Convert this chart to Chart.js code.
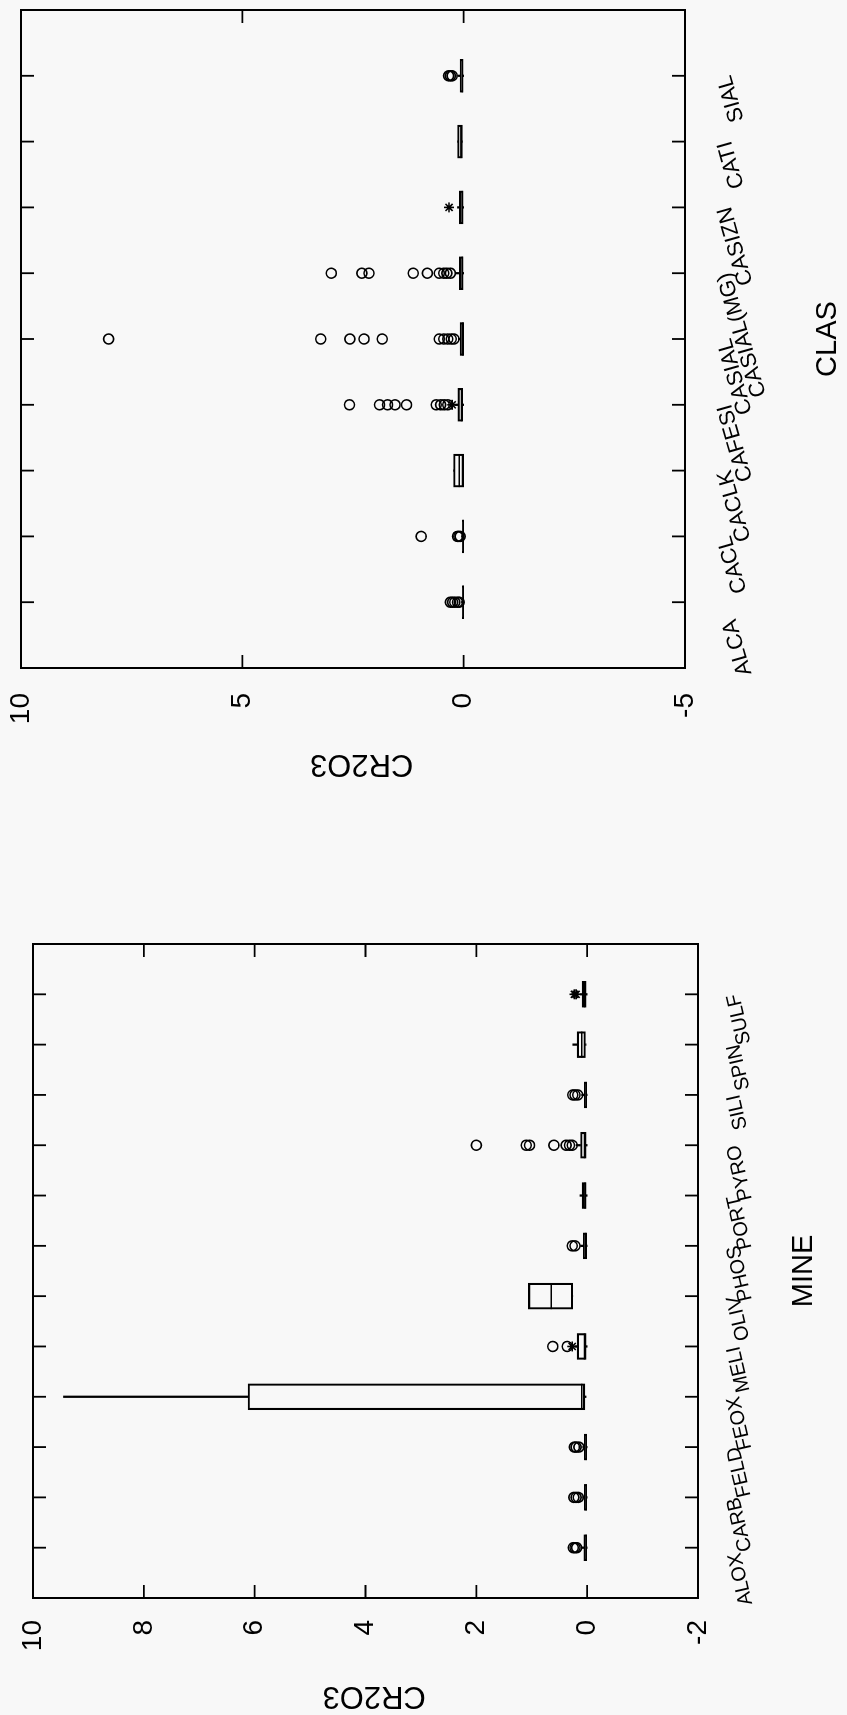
<!DOCTYPE html>
<html>
<head>
<meta charset="utf-8">
<script src="https://cdn.jsdelivr.net/npm/chart.js@4.4.1/dist/chart.umd.min.js"></script>
<style>
  html, body { margin: 0; padding: 0; background: #f8f8f8; overflow: hidden; width: 847px; height: 1715px; }
  /* the sheet is laid out landscape and turned a quarter turn */
  #sheet { position: absolute; left: 0; top: 0; width: 1715px; height: 847px;
           transform-origin: 0 0; transform: translate(0, 1715px) rotate(-90deg); }
  .panel { position: absolute; top: 0; height: 847px; }
  #minePanel { left: 0; width: 857px; }
  #clasPanel { left: 857px; width: 858px; }
  canvas { display: block; }
</style>
</head>
<body>
<div id="sheet">
  <div class="panel" id="minePanel"><canvas id="mineChart" width="857" height="847"></canvas></div>
  <div class="panel" id="clasPanel"><canvas id="clasChart" width="858" height="847"></canvas></div>
</div>
<script>
// ---------- MINE groups: CR2O3 ----------
const mineCategories = ['ALOX','CARB','FELD','FEOX','MELI','OLIV','PHOS','PORT','PYRO','SILI','SPIN','SULF'];
const mineLow    = [0.00, 0.00, 0.00, 0.02, 0.00, 0.26, 0.00, 0.00, 0.00, 0.00, 0.02, 0.00];
const mineQ1     = [0.01, 0.01, 0.01, 0.04, 0.02, 0.26, 0.01, 0.02, 0.02, 0.01, 0.03, 0.02];
const mineMedian = [0.02, 0.02, 0.02, 0.10, 0.05, 0.65, 0.03, 0.04, 0.05, 0.02, 0.10, 0.05];
const mineQ3     = [0.06, 0.05, 0.05, 6.12, 0.18, 1.06, 0.07, 0.09, 0.12, 0.05, 0.18, 0.09];
const mineHigh   = [0.10, 0.08, 0.08, 9.45, 0.22, 1.06, 0.12, 0.13, 0.20, 0.10, 0.26, 0.12];
const mineOutside = [[], [], [], [], [0.27], [], [], [], [], [], [], [0.20, 0.23]];
const mineFarOutside = [
  [0.19, 0.22, 0.25], [0.16, 0.20, 0.24], [0.15, 0.20, 0.23], [], [0.36, 0.62], [],
  [0.22, 0.27], [], [2.00, 1.10, 1.04, 0.60, 0.38, 0.32, 0.27], [0.17, 0.22, 0.26], [], []
];
const mineValueTicks = [-2, 0, 2, 4, 6, 8, 10];

// ---------- CLAS groups: CR2O3 ----------
const clasCategories = ['ALCA','CACL','CACLK','CAFESI','CASIAL','CASIAL(MG)','CASIZN','CATI','SIAL'];
const clasLow    = [0.00, 0.00, 0.00, 0.00, 0.00, 0.00, 0.00, 0.03, 0.00];
const clasQ1     = [0.00, 0.00, 0.00, 0.02, 0.00, 0.01, 0.01, 0.03, 0.01];
const clasMedian = [0.01, 0.01, 0.10, 0.05, 0.02, 0.03, 0.03, 0.06, 0.03];
const clasQ3     = [0.03, 0.03, 0.23, 0.13, 0.08, 0.10, 0.10, 0.14, 0.08];
const clasHigh   = [0.05, 0.05, 0.23, 0.20, 0.12, 0.18, 0.14, 0.14, 0.12];
const clasOutside = [[], [], [], [0.26], [], [], [0.33], [], []];
const clasFarOutside = [
  [0.30, 0.25, 0.20, 0.14, 0.10],
  [0.96, 0.14, 0.11, 0.08],
  [],
  [2.58, 1.90, 1.72, 1.55, 1.29, 0.62, 0.52, 0.44, 0.36],
  [8.02, 3.23, 2.57, 2.25, 1.84, 0.55, 0.45, 0.36, 0.28, 0.22],
  [2.99, 2.30, 2.14, 1.14, 0.82, 0.55, 0.45, 0.38, 0.30],
  [], [],
  [0.26, 0.30, 0.34]
];
const clasValueTicks = [-5, 0, 5, 10];

const FONT = '"Liberation Sans", Arial, Helvetica, sans-serif';
Chart.defaults.font.family = FONT;
Chart.defaults.color = '#000';

// frame round the plot area with short inward ticks on all four sides
const framePlugin = {
  id: 'frame',
  afterDatasetsDraw(chart) {
    const { ctx, chartArea: a, scales: { x, y } } = chart;
    const len = 13;
    ctx.save();
    ctx.strokeStyle = '#000';
    ctx.lineWidth = 1.8;
    ctx.beginPath();
    for (let i = 1; i < x.getLabels().length - 1; i++) {
      const px = x.getPixelForValue(i);
      ctx.moveTo(px, a.top); ctx.lineTo(px, a.top + len);
      ctx.moveTo(px, a.bottom); ctx.lineTo(px, a.bottom - len);
    }
    y.ticks.forEach(t => {
      const py = y.getPixelForValue(t.value);
      if (py <= a.top + 1 || py >= a.bottom - 1) return;
      ctx.moveTo(a.left, py); ctx.lineTo(a.left + len, py);
      ctx.moveTo(a.right, py); ctx.lineTo(a.right - len, py);
    });
    ctx.stroke();
    ctx.lineWidth = 2;
    ctx.strokeRect(a.left, a.top, a.right - a.left, a.bottom - a.top);
    ctx.restore();
  }
};

function boxPlot(canvasId, cfg) {
  // the first name is pulled back so it starts at the left edge of the frame
  const names = cfg.categories.map((c, i) => i === 0 ? c + ' '.repeat(cfg.firstLabelPull) : c);
  const labels = ['', ...names, ''];
  const pad = arr => [null, ...arr, null];
  const whiskerUp = pad(cfg.q3.map((q, i) => [q, cfg.high[i]]));
  const whiskerDown = pad(cfg.q1.map((q, i) => [cfg.low[i], q]));
  const boxes = pad(cfg.q1.map((q, i) => [q, cfg.q3[i]]));
  const far = [], out = [];
  cfg.farOutside.forEach((vals, i) => vals.forEach(v => far.push({ x: names[i], y: v })));
  cfg.outside.forEach((vals, i) => vals.forEach(v => out.push({ x: names[i], y: v })));

  const whiskerStyle = { type: 'bar', grouped: false, barThickness: 1.6, backgroundColor: '#000',
                         borderWidth: 0, order: 5 };
  return new Chart(document.getElementById(canvasId), {
    type: 'bar',
    data: {
      labels,
      datasets: [
        { ...whiskerStyle, data: whiskerUp },
        { ...whiskerStyle, data: whiskerDown },
        { type: 'bar', grouped: false, data: boxes, barThickness: cfg.boxWidth,
          backgroundColor: 'rgba(0,0,0,0)', borderColor: '#000', borderWidth: 1.5,
          borderSkipped: false, order: 4 },
        { type: 'line', data: pad(cfg.median), showLine: false, pointStyle: 'line',
          pointRadius: cfg.boxWidth / 2, borderColor: '#000', borderWidth: 1.5, order: 3 },
        { type: 'line', data: out, showLine: false, pointStyle: 'star', pointRadius: 5,
          borderColor: '#000', borderWidth: 1.6, order: 2 },
        { type: 'line', data: far, showLine: false, pointStyle: 'circle', pointRadius: 5,
          borderColor: '#000', backgroundColor: 'rgba(0,0,0,0)', borderWidth: 1.6, order: 1 }
      ]
    },
    options: {
      responsive: false,
      animation: false,
      events: [],
      layout: { padding: cfg.padding, autoPadding: false },
      plugins: { legend: { display: false }, tooltip: { enabled: false } },
      scales: {
        x: {
          type: 'category',
          offset: false,
          grid: { display: false, drawTicks: false },
          border: { display: false },
          ticks: {
            autoSkip: false, minRotation: cfg.labelTilt, maxRotation: cfg.labelTilt,
            padding: cfg.labelPad, font: { size: cfg.labelSize }
          },
          title: { display: true, text: cfg.xTitle, font: { size: 29 },
                   padding: { top: 0, bottom: cfg.xTitlePad } },
          afterFit: s => { s.height = cfg.xAxisHeight; s.paddingLeft = 0; s.paddingRight = 0; }
        },
        y: {
          type: 'linear',
          min: cfg.valueTicks[0],
          max: cfg.valueTicks[cfg.valueTicks.length - 1],
          afterBuildTicks: s => { s.ticks = cfg.valueTicks.map(v => ({ value: v })); },
          grid: { display: false, drawTicks: false },
          border: { display: false },
          ticks: { font: { size: 28 }, padding: cfg.tickPad },
          title: { display: true, text: 'CR2O3  ', font: { size: 31 },
                   padding: { top: cfg.yTitlePad, bottom: 0 } },
          afterFit: s => { s.width = cfg.yAxisWidth; s.paddingTop = 0; s.paddingBottom = 0; }
        }
      }
    },
    plugins: [framePlugin]
  });
}

boxPlot('mineChart', {
  categories: mineCategories, low: mineLow, q1: mineQ1, median: mineMedian, q3: mineQ3,
  high: mineHigh, outside: mineOutside, farOutside: mineFarOutside, valueTicks: mineValueTicks,
  boxWidth: 26, xTitle: 'MINE',
  padding: { left: 0, top: 33, right: 86, bottom: 0 },
  yAxisWidth: 117, xAxisHeight: 149, tickPad: 22, yTitlePad: 1, xTitlePad: 26,
  labelPad: 24, labelSize: 20, labelTilt: 13, firstLabelPull: 1
});

boxPlot('clasChart', {
  categories: clasCategories, low: clasLow, q1: clasQ1, median: clasMedian, q3: clasQ3,
  high: clasHigh, outside: clasOutside, farOutside: clasFarOutside, valueTicks: clasValueTicks,
  boxWidth: 33, xTitle: 'CLAS',
  padding: { left: 0, top: 21, right: 10, bottom: 0 },
  yAxisWidth: 190, xAxisHeight: 162, tickPad: 25, yTitlePad: 76, xTitlePad: 2,
  labelPad: 27, labelSize: 22, labelTilt: 16, firstLabelPull: 3
});
</script>
</body>
</html>
